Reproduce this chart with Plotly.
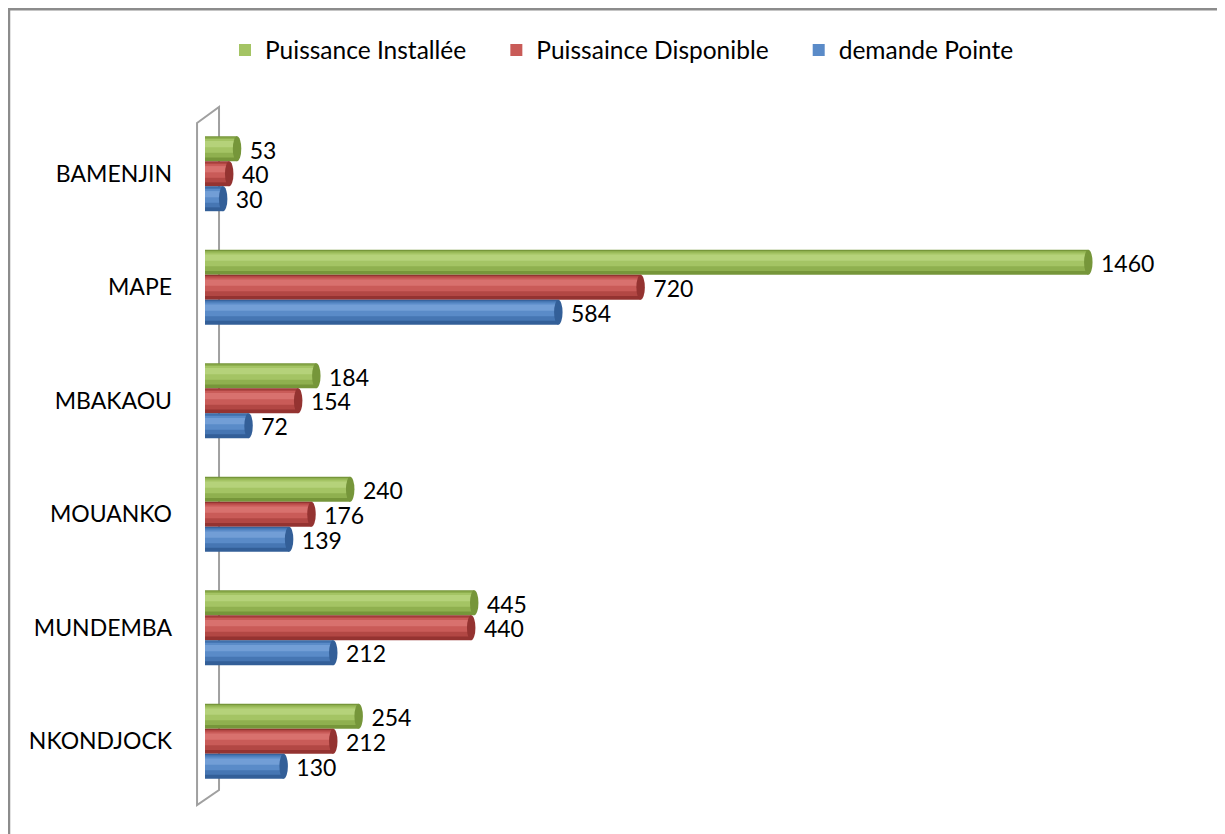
import plotly.graph_objects as go

categories = ["BAMENJIN", "MAPE", "MBAKAOU", "MOUANKO", "MUNDEMBA", "NKONDJOCK"]
installee = [53, 1460, 184, 240, 445, 254]
disponible = [40, 720, 154, 176, 440, 212]
demande = [30, 584, 72, 139, 212, 130]

# name, values, shades from dark edge to highlight
series = [
    ("Puissance Installée", installee, ["#76963A", "#8FB04F", "#A4C464", "#B5D27A"]),
    ("Puissaince Disponible", disponible, ["#943331", "#B24744", "#C95B58", "#D8716E"]),
    ("demande Pointe", demande, ["#335F98", "#4676B3", "#5A8BC8", "#729ED6"]),
]
legend_pad = ["\u00a0" * 4, "\u00a0" * 4, ""]

# page body has an 8px margin, so screen px = figure px + 8
OFF = 8
W, H = 1217, 826
L, R, T, B = 197, 25, 109, 36
pw, ph = W - L - R, H - T - B


def px(x):
    return (x - OFF - L) / pw


def py(y):
    return (H - B - (y - OFF)) / ph


fig = go.Figure()
bar_w = 0.22
offsets = [-0.22, 0.0, 0.22]
layers = [(1.0, 0.0), (0.8, -0.012), (0.55, -0.025), (0.25, -0.04)]
shapes = []

for (name, vals, cols), off, pad in zip(series, offsets, legend_pad):
    pos = [i + off for i in range(len(categories))]
    for k, ((wf, dy), col) in enumerate(zip(layers, cols)):
        fig.add_trace(go.Bar(x=vals, y=[p + dy for p in pos], orientation="h",
                             width=bar_w * wf, marker=dict(color=col, line_width=0),
                             name=name + pad, legendgroup=name, showlegend=(k == 2),
                             hoverinfo="skip" if k != 2 else None))
    fig.add_trace(go.Scatter(x=[v + 21 for v in vals], y=[p + 0.035 for p in pos],
                             mode="text", text=[str(v) for v in vals],
                             textposition="middle right",
                             textfont=dict(size=23, color="#000000", family="Lato"),
                             showlegend=False, hoverinfo="skip"))
    for v, p in zip(vals, pos):
        shapes.append(dict(type="circle", xref="x", yref="y",
                           x0=v - 7, x1=v + 7, y0=p - bar_w / 2, y1=p + bar_w / 2,
                           fillcolor=cols[0], line=dict(width=0), layer="above"))

# 3D wall behind the bars
wall = [(197, 123), (219, 107), (219, 790), (197, 805)]
path = "M " + " L ".join(f"{px(x):.4f},{py(y):.4f}" for x, y in wall) + " Z"
shapes.append(dict(type="path", xref="paper", yref="paper", path=path,
                   line=dict(color="#A0A0A0", width=2), layer="below"))

# outer frame
shapes.append(dict(type="rect", xref="paper", yref="paper",
                   x0=px(9), x1=px(1260), y0=py(860), y1=py(9.2),
                   line=dict(color="#8C8C8C", width=2.5), layer="below"))

fig.update_layout(
    width=W, height=H,
    margin=dict(l=L, r=R, t=T, b=B),
    barmode="overlay",
    plot_bgcolor="white", paper_bgcolor="white",
    font=dict(family="Lato", size=22, color="#000000"),
    shapes=shapes,
    showlegend=True,
    legend=dict(orientation="h", x=px(622), y=py(50), xanchor="center",
                yanchor="middle", font=dict(size=24.5), traceorder="normal"),
    xaxis=dict(visible=False, range=[0, pw / 0.605]),
    yaxis=dict(range=[5.5, -0.5], tickvals=list(range(len(categories))),
               ticktext=categories, showgrid=False, zeroline=False,
               showline=False, ticks="", ticklabelstandoff=32,
               tickfont=dict(size=23, family="Lato")),
)

fig.write_html("out.html")
